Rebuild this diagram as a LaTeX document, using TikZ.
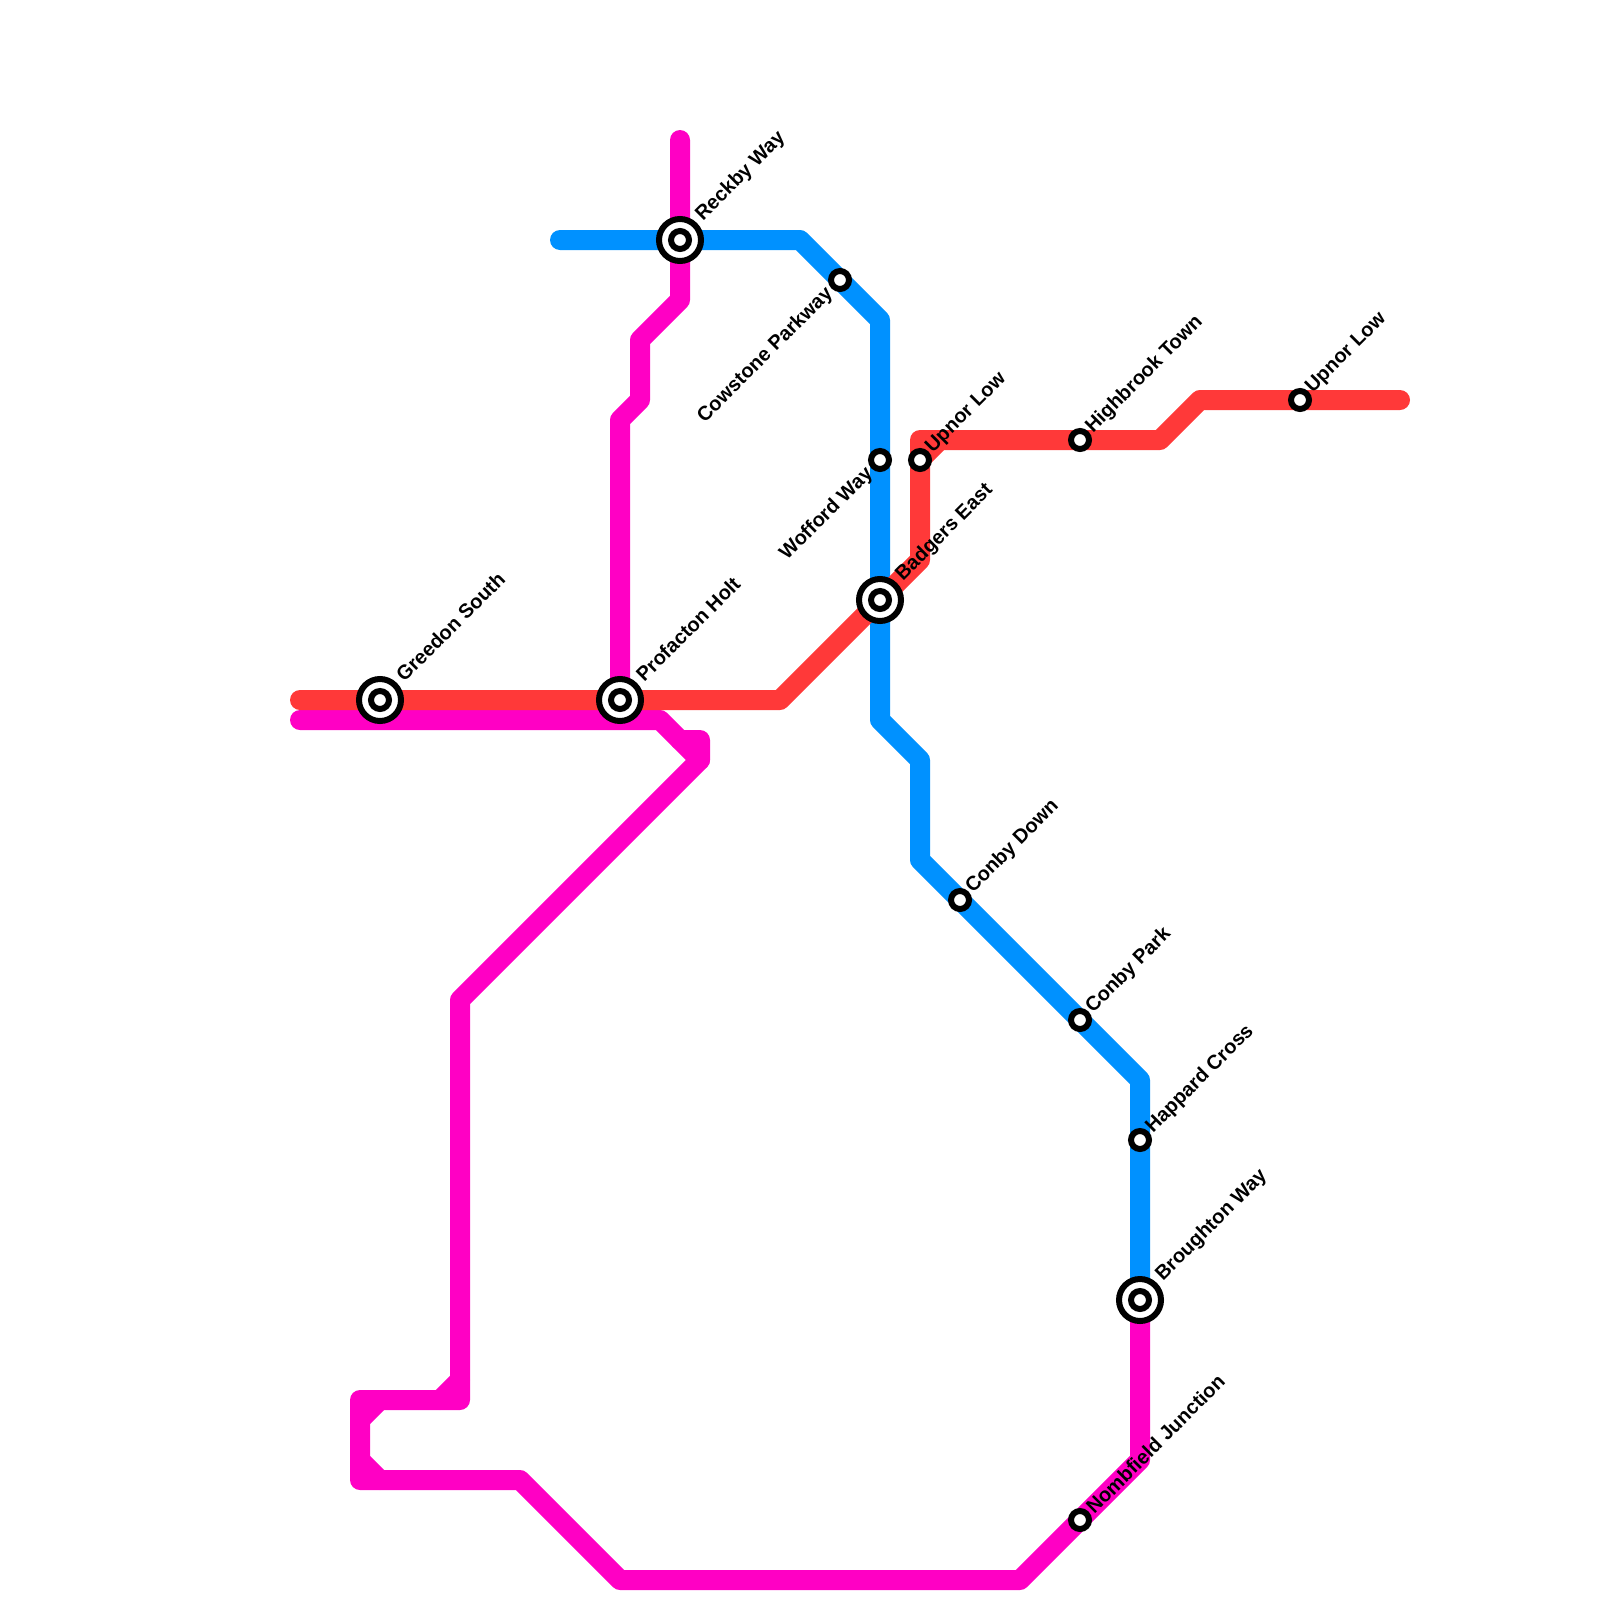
\documentclass[tikz,border=0pt]{standalone}
\usepackage{fontspec}
\setmainfont{Liberation Sans}

\definecolor{linepink}{RGB}{255,0,196}
\definecolor{lineblue}{RGB}{0,145,255}
\definecolor{linered}{RGB}{255,57,57}

\tikzset{
  route/.style={line width=0.5cm,line cap=round,line join=round},
  stn/.style={circle,draw=black,fill=white,line width=0.15cm,minimum size=0.45cm,inner sep=0pt,outer sep=0pt},
  hub/.style={circle,draw=black,fill=white,line width=0.15cm,minimum size=1.05cm,inner sep=0pt,outer sep=0pt},
  lbl/.style={rotate=45,inner sep=0pt,font=\bfseries\fontsize{14.2}{17}\selectfont},
}

\begin{document}
\begin{tikzpicture}[x=1cm,y=-1cm]

  \useasboundingbox (0,0) rectangle (40,40);

  % pink line
  \coordinate (p1) at (17.0, 3.5);
  \coordinate (p2) at (17.0, 7.5);
  \coordinate (p3) at (16.0, 8.5);
  \coordinate (p4) at (16.0,10.0);
  \coordinate (p5) at (15.5,10.5);
  \coordinate (p6) at (15.5,17.5);

  \coordinate (q1) at ( 7.5,18.0);
  \coordinate (q2) at (16.5,18.0);
  \coordinate (q3) at (17.0,18.5);
  \coordinate (q4) at (17.5,18.5);
  \coordinate (q5) at (17.5,19.0);
  \coordinate (q6) at (11.5,25.0);
  \coordinate (q7) at (11.5,35.0);
  \coordinate (q8) at ( 9.0,35.0);
  \coordinate (q9) at ( 9.0,37.0);
  \coordinate (q10) at (13.0,37.0);
  \coordinate (q11) at (15.5,39.5);
  \coordinate (q12) at (25.5,39.5);
  \coordinate (q13) at (28.5,36.5);
  \coordinate (q14) at (28.5,32.5);

  \draw[route,linepink] (p1) -- (p2) -- (p3) -- (p4) -- (p5) -- (p6);
  \draw[route,linepink] (q1) -- (q2) -- (q3) -- (q4) -- (q5) -- (q6) -- (q7) -- (q8) -- (q9)
    -- (q10) -- (q11) -- (q12) -- (q13) -- (q14);
  \draw[route,linepink] (q3) -- (q5);
  \draw[route,linepink] (11.0,35.0) -- (11.5,34.5);
  \draw[route,linepink] (9.0,35.5) -- (9.5,35.0);
  \draw[route,linepink] (9.0,36.5) -- (9.5,37.0);

  % blue line
  \coordinate (b1) at (14.0, 6.0);
  \coordinate (b2) at (20.0, 6.0);
  \coordinate (b3) at (22.0, 8.0);
  \coordinate (b4) at (22.0,18.0);
  \coordinate (b5) at (23.0,19.0);
  \coordinate (b6) at (23.0,21.5);
  \coordinate (b7) at (28.5,27.0);
  \coordinate (b8) at (28.5,32.5);

  \draw[route,lineblue] (b1) -- (b2) -- (b3) -- (b4) -- (b5) -- (b6) -- (b7) -- (b8);

  % red line
  \coordinate (r1) at ( 7.5,17.5);
  \coordinate (r2) at (19.5,17.5);
  \coordinate (r3) at (23.0,14.0);
  \coordinate (r4) at (23.0,11.0);
  \coordinate (r5) at (29.0,11.0);
  \coordinate (r6) at (30.0,10.0);
  \coordinate (r7) at (35.0,10.0);

  \draw[route,linered] (r1) -- (r2) -- (r3) -- (r4) -- (r5) -- (r6) -- (r7);
  \draw[route,linered] (23.0,11.5) -- (23.5,11.0);

  % stations
  \node[hub] (greedon)   at ( 9.5,17.5) {};
  \node[hub] (profacton) at (15.5,17.5) {};
  \node[hub] (reckby)    at (17.0, 6.0) {};
  \node[hub] (badgers)   at (22.0,15.0) {};
  \node[hub] (broughton) at (28.5,32.5) {};

  \foreach \s in {greedon,profacton,reckby,badgers,broughton} {
     \node[stn] (\s-in) at (\s) {};
  }

  \node[stn] (cowstone)  at (21.0, 7.0) {};
  \node[stn] (wofford)   at (22.0,11.5) {};
  \node[stn] (upnora)    at (23.0,11.5) {};
  \node[stn] (highbrook) at (27.0,11.0) {};
  \node[stn] (upnorb)    at (32.5,10.0) {};
  \node[stn] (conbydown) at (24.0,22.5) {};
  \node[stn] (conbypark) at (27.0,25.5) {};
  \node[stn] (happard)   at (28.5,28.5) {};
  \node[stn] (nombfield) at (27.0,38.0) {};

  % labels
  \node[lbl,anchor=west] (greedon-l)   at ( 9.98,16.95) {Greedon South};
  \node[lbl,anchor=west] (profacton-l) at (15.98,16.95) {Profacton Holt};
  \node[lbl,anchor=west] (reckby-l)    at (17.48, 5.45) {Reckby Way};
  \node[lbl,anchor=west] (badgers-l)   at (22.48,14.45) {Badgers East};
  \node[lbl,anchor=west] (broughton-l) at (28.98,31.95) {Broughton Way};

  \node[lbl,anchor=east] (cowstone-l)  at (20.75, 7.27) {Cowstone Parkway};
  \node[lbl,anchor=east] (wofford-l)   at (21.75,11.77) {Wofford Way};

  \node[lbl,anchor=west] (upnora-l)    at (23.23,11.25) {Upnor Low};
  \node[lbl,anchor=west] (highbrook-l) at (27.23,10.75) {Highbrook Town};
  \node[lbl,anchor=west] (upnorb-l)    at (32.73, 9.75) {Upnor Low};
  \node[lbl,anchor=west] (conbydown-l) at (24.23,22.25) {Conby Down};
  \node[lbl,anchor=west] (conbypark-l) at (27.23,25.25) {Conby Park};
  \node[lbl,anchor=west] (happard-l)   at (28.73,28.25) {Happard Cross};
  \node[lbl,anchor=west] (nombfield-l) at (27.23,37.75) {Nombfield Junction};

\end{tikzpicture}
\end{document}
